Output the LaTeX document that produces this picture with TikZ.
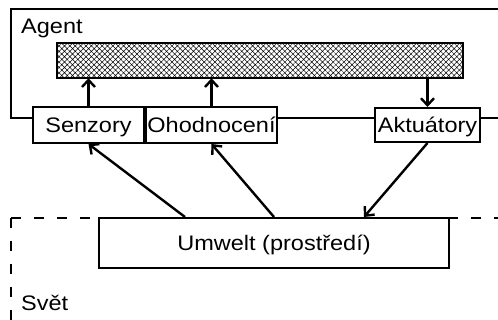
\documentclass[tikz,border=0pt]{standalone}
\usepackage{fontspec}
\setmainfont{Liberation Sans}[FakeStretch=1.12]
\usetikzlibrary{arrows.meta,patterns.meta}
\begin{document}
\begin{tikzpicture}[x=1pt,y=-1pt,
  font=\fontsize{21}{25}\selectfont,
  box/.style={draw,line width=2pt,fill=white,inner sep=0pt,text height=15pt,text depth=0pt},
  lbl/.style={anchor=base west,inner sep=0pt},
  arr/.style={line width=2.4pt,-{Straight Barb[length=7pt,width=13pt]}},
  frame/.style={line width=2.4pt},
  world/.style={line width=2.4pt,dash pattern=on 10pt off 13pt},
  hatchbox/.style={draw,line width=2.4pt,inner sep=0pt,preaction={fill=white},
    pattern={Hatch[angle=45,distance=3.8pt,line width=0.5pt]}}]
\fill[white] (0,0) rectangle (498,320);
\useasboundingbox (0,0) rectangle (498,320);
% agent frame
\coordinate (a1) at (498,9);
\coordinate (a2) at (11,9);
\coordinate (a3) at (11,118);
\coordinate (a4) at (498,118);
\draw[frame] (a1) -- (a2) -- (a3) -- (a4);
% world frame
\coordinate (wc) at (11,218);
\coordinate (we) at (498,218);
\coordinate (ws) at (11,320);
\draw[world] (wc) -- (we);
\draw[world] (wc) -- (ws);
% labels
\node[lbl] (agentlbl) at (21,34) {Agent};
\node[lbl] (svetlbl) at (21,311) {Svět};
% nodes
\node[hatchbox,minimum width=406pt,minimum height=35pt] (hatch) at (260,60.5) {};
\node[box,minimum width=111pt,minimum height=36pt] (sen) at (88.5,125) {Senzory};
\node[box,minimum width=131pt,minimum height=36pt] (ohn) at (211.5,125) {Ohodnocení};
\node[box,minimum width=105pt,minimum height=34pt] (akt) at (427.5,125) {Aktuátory};
\node[box,minimum width=350pt,minimum height=50pt] (um) at (274,243) {Umwelt (prostředí)};
% arrows
\draw[arr] (sen.north) -- (sen.north |- hatch.south);
\draw[arr] (ohn.north) -- (ohn.north |- hatch.south);
\draw[arr] (akt.north |- hatch.south) -- (akt.north);
\draw[arr] ([xshift=87pt]um.north west) -- (sen.south);
\draw[arr] (um.north) -- (ohn.south);
\draw[arr] (akt.south) -- ([xshift=-86pt]um.north east);
\end{tikzpicture}
\end{document}
